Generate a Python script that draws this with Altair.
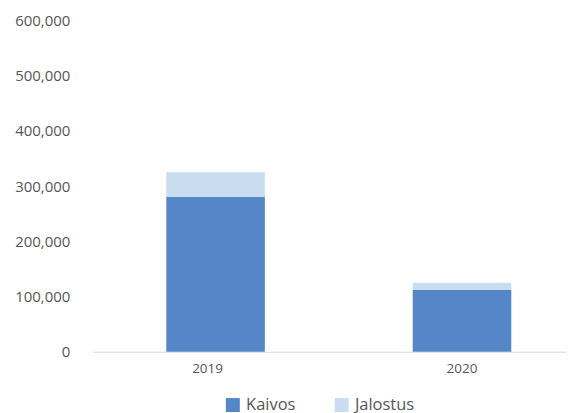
import altair as alt
import pandas as pd

years = ["2019", "2020"]
series = ["Kaivos", "Jalostus"]
kaivos = [280000, 112000]
jalostus = [45000, 13000]

rows = []
for i, y in enumerate(years):
    rows.append({"year": y, "series": "Kaivos", "value": kaivos[i], "order": 0})
    rows.append({"year": y, "series": "Jalostus", "value": jalostus[i], "order": 1})
df = pd.DataFrame(rows)

FONT = "Open Sans"
TXT = "#565656"

chart = alt.Chart(df).mark_bar().encode(
    x=alt.X("year:N", title=None,
            scale=alt.Scale(paddingInner=0.6, paddingOuter=0.26, align=0.573),
            axis=alt.Axis(labelAngle=0, ticks=False, domainColor="#d9d9d9",
                          labelFont=FONT, labelFontSize=13.5, labelColor=TXT,
                          labelOffset={"condition": {"test": "datum.value == '2019'", "value": -8}, "value": 0},
                          labelPadding=10, grid=False)),
    y=alt.Y("value:Q", title=None, stack="zero",
            scale=alt.Scale(domain=[0, 600000], nice=False),
            axis=alt.Axis(values=[0, 100000, 200000, 300000, 400000, 500000, 600000],
                          format=",d", ticks=False, domain=False, grid=False,
                          labelFont=FONT, labelFontSize=15, labelColor=TXT,
                          labelPadding=23)),
    color=alt.Color("series:N", sort=series,
                    scale=alt.Scale(domain=series, range=["#5587C8", "#C9DDF1"]),
                    legend=alt.Legend(title=None, orient="none", direction="horizontal",
                                      legendX=132, legendY=377,
                                      symbolType="square", symbolSize=196,
                                      symbolStrokeWidth=0,
                                      labelFont=FONT, labelFontSize=16.5, labelColor=TXT,
                                      labelOffset=5, columnPadding=38)),
    order=alt.Order("order:Q"),
).properties(
    width=474, height=332,
    padding={"left": 85, "top": 12, "right": 0, "bottom": 61},
    autosize=alt.AutoSizeParams(type="none"),
).configure_view(stroke=None)

chart.save("out.html", embed_options={"renderer": "svg", "actions": False})
